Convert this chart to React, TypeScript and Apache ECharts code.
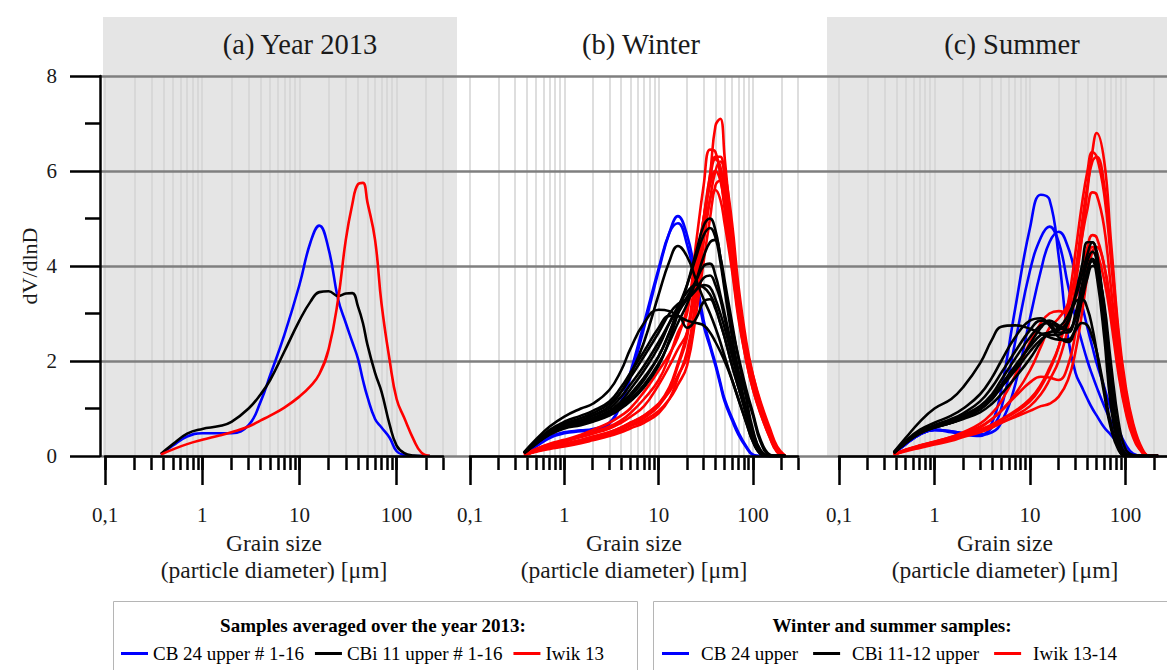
import React, { useEffect, useRef } from "react";
import * as echarts from "echarts";

// ---------- data ----------
const DIAMETERS = [0.375, 0.5, 0.7, 1, 1.5, 2, 3, 4, 5, 7, 10, 13, 16, 20, 25, 30, 35, 40, 45, 50, 60, 70, 85, 100, 120, 150, 180, 220];

const X_MIN = 0.1;
const X_MAX = 300;
const MAJOR_TICKS = [0.1, 1, 10, 100];
const MAJOR_LABELS = ["0,1", "1", "10", "100"];
const ALL_TICKS = [0.1, 0.2, 0.3, 0.4, 0.5, 0.6, 0.7, 0.8, 0.9, 1, 2, 3, 4, 5, 6, 7, 8, 9, 10, 20, 30, 40, 50, 60, 70, 80, 90, 100, 200, 300];
const Y_MIN = 0;
const Y_MAX = 8;
const Y_STEP = 2;

const PANEL_TITLES = ["(a) Year 2013", "(b) Winter", "(c) Summer"];
const X_NAME = "Grain size\n(particle diameter) [μm]";
const Y_NAME = "dV/dlnD";

const LEGEND_A_TITLE = "Samples averaged over the year 2013:";
const LEGEND_BC_TITLE = "Winter and summer samples:";
const NAMES_A = ["CB 24 upper # 1-16", "CBi 11 upper # 1-16", "Iwik 13"];
const NAMES_BC = ["CB 24 upper", "CBi 11-12 upper", "Iwik 13-14"];

// (a) Year 2013
const YEAR_CB24 = [0.03, 0.22, 0.41, 0.48, 0.48, 0.48, 0.65, 1.15, 1.7, 2.55, 3.6, 4.5, 4.85, 4.35, 3.3, 2.8, 2.4, 2.05, 1.6, 1.25, 0.78, 0.6, 0.38, 0.1, 0.02, 0, 0, 0];
const YEAR_CBI11 = [0.04, 0.25, 0.47, 0.57, 0.63, 0.72, 1.0, 1.3, 1.6, 2.2, 2.85, 3.25, 3.45, 3.47, 3.37, 3.42, 3.43, 3.15, 2.8, 2.35, 1.75, 1.35, 0.65, 0.22, 0.06, 0.01, 0, 0];
const YEAR_IWIK13 = [0.03, 0.14, 0.25, 0.34, 0.43, 0.5, 0.62, 0.75, 0.85, 1.02, 1.25, 1.47, 1.72, 2.25, 3.3, 4.55, 5.3, 5.72, 5.75, 5.35, 4.55, 3.2, 2.0, 1.2, 0.8, 0.34, 0.07, 0];

// (b) Winter
const WINTER_CB24 = [
  [0.05, 0.2, 0.38, 0.48, 0.52, 0.55, 0.68, 1.1, 1.65, 2.7, 3.9, 4.7, 5.05, 4.65, 3.75, 2.85, 2.35, 1.95, 1.55, 1.2, 0.8, 0.5, 0.2, 0.03, 0, 0, 0, 0],
  [0.05, 0.21, 0.4, 0.5, 0.54, 0.57, 0.7, 1.15, 1.75, 2.8, 3.95, 4.7, 4.9, 4.45, 3.6, 2.75, 2.3, 1.9, 1.5, 1.15, 0.75, 0.45, 0.18, 0.02, 0, 0, 0, 0],
];
const WINTER_IWIK = [
  [0.02, 0.1, 0.18, 0.25, 0.33, 0.4, 0.5, 0.6, 0.7, 0.85, 1.1, 1.45, 1.95, 2.6, 3.9, 5.0, 5.9, 6.95, 7.1, 6.3, 4.6, 3.3, 2.3, 1.7, 1.15, 0.6, 0.2, 0],
  [0.03, 0.14, 0.24, 0.32, 0.42, 0.5, 0.62, 0.75, 0.9, 1.2, 1.6, 2.1, 2.6, 3.0, 4.5, 5.7, 6.45, 6.4, 5.9, 5.2, 4.0, 3.0, 2.1, 1.5, 1.0, 0.5, 0.15, 0],
  [0.02, 0.1, 0.17, 0.22, 0.3, 0.36, 0.45, 0.55, 0.65, 0.8, 1.05, 1.4, 1.9, 2.5, 3.8, 5.0, 5.9, 6.3, 6.3, 5.8, 4.5, 3.3, 2.2, 1.6, 1.05, 0.5, 0.12, 0],
  [0.02, 0.09, 0.15, 0.2, 0.27, 0.33, 0.42, 0.5, 0.58, 0.7, 0.9, 1.2, 1.65, 2.2, 3.3, 4.5, 5.4, 6.0, 6.2, 6.0, 4.9, 3.6, 2.4, 1.7, 1.1, 0.55, 0.15, 0],
  [0.03, 0.15, 0.26, 0.34, 0.45, 0.55, 0.7, 0.85, 1.0, 1.35, 1.8, 2.15, 2.5, 3.1, 4.1, 5.0, 5.7, 6.0, 5.8, 5.3, 4.2, 3.1, 2.1, 1.5, 0.95, 0.45, 0.1, 0],
  [0.02, 0.1, 0.17, 0.23, 0.3, 0.37, 0.46, 0.55, 0.63, 0.75, 0.95, 1.2, 1.5, 1.9, 3.0, 4.1, 5.0, 5.7, 5.8, 5.5, 4.5, 3.4, 2.3, 1.6, 1.0, 0.5, 0.1, 0],
  [0.03, 0.13, 0.22, 0.3, 0.4, 0.47, 0.58, 0.7, 0.82, 1.05, 1.5, 1.9, 2.25, 2.6, 3.6, 4.6, 5.4, 5.6, 5.4, 4.9, 3.9, 2.9, 2.0, 1.4, 0.9, 0.4, 0.08, 0],
  [0.02, 0.11, 0.19, 0.26, 0.34, 0.41, 0.5, 0.6, 0.7, 0.85, 1.1, 1.35, 1.7, 2.1, 3.4, 4.8, 5.8, 6.25, 6.1, 5.5, 4.2, 3.0, 2.0, 1.4, 0.9, 0.4, 0.1, 0],
];
const WINTER_CBI = [
  [0.06, 0.25, 0.45, 0.58, 0.65, 0.72, 0.85, 1.0, 1.15, 1.45, 1.9, 2.45, 3.0, 3.6, 4.3, 4.85, 5.0, 4.75, 4.2, 3.6, 2.7, 2.1, 1.4, 0.9, 0.35, 0.03, 0, 0],
  [0.06, 0.27, 0.48, 0.62, 0.7, 0.78, 0.92, 1.1, 1.3, 1.65, 2.1, 2.6, 3.1, 3.6, 4.2, 4.65, 4.8, 4.6, 4.1, 3.5, 2.5, 1.8, 0.95, 0.35, 0.06, 0, 0, 0],
  [0.06, 0.28, 0.5, 0.65, 0.75, 0.85, 1.05, 1.35, 1.7, 2.4, 3.4, 4.1, 4.42, 4.2, 3.7, 3.3, 3.0, 2.7, 2.4, 2.1, 1.6, 1.2, 0.7, 0.3, 0.05, 0, 0, 0],
  [0.06, 0.28, 0.5, 0.65, 0.75, 0.85, 1.0, 1.25, 1.5, 1.9, 2.4, 2.8, 3.1, 3.35, 3.7, 4.0, 4.05, 3.8, 3.4, 3.0, 2.3, 1.75, 1.3, 0.85, 0.3, 0.02, 0, 0],
  [0.07, 0.3, 0.52, 0.68, 0.8, 0.9, 1.1, 1.35, 1.65, 2.1, 2.6, 3.0, 3.2, 3.3, 3.5, 3.75, 3.8, 3.6, 3.3, 2.9, 2.2, 1.6, 0.9, 0.35, 0.05, 0, 0, 0],
  [0.06, 0.26, 0.46, 0.6, 0.68, 0.76, 0.9, 1.05, 1.25, 1.6, 2.1, 2.6, 3.0, 3.3, 3.5, 3.6, 3.55, 3.3, 3.0, 2.7, 2.1, 1.6, 1.0, 0.5, 0.12, 0, 0, 0],
  [0.07, 0.3, 0.55, 0.72, 0.85, 0.95, 1.15, 1.45, 1.75, 2.2, 2.7, 2.95, 2.95, 2.7, 2.9, 3.25, 3.3, 3.1, 2.8, 2.5, 1.9, 1.45, 0.9, 0.4, 0.08, 0, 0, 0],
  [0.08, 0.35, 0.62, 0.83, 1.0, 1.1, 1.39, 1.8, 2.25, 2.8, 3.08, 3.05, 2.95, 2.85, 2.8, 2.75, 2.6, 2.4, 2.2, 2.0, 1.6, 1.2, 0.7, 0.3, 0.05, 0, 0, 0],
  [0.06, 0.27, 0.48, 0.62, 0.72, 0.8, 0.95, 1.15, 1.4, 1.8, 2.3, 2.8, 3.15, 3.45, 3.6, 3.55, 3.4, 3.15, 2.8, 2.5, 1.9, 1.45, 0.85, 0.35, 0.06, 0, 0, 0],
  [0.06, 0.26, 0.46, 0.6, 0.68, 0.75, 0.88, 1.02, 1.2, 1.5, 1.95, 2.4, 2.8, 3.2, 3.7, 4.2, 4.5, 4.55, 4.2, 3.7, 2.8, 2.05, 1.2, 0.55, 0.12, 0, 0, 0],
];

// (c) Summer
const SUMMER_CB24 = [
  [0.05, 0.25, 0.45, 0.55, 0.5, 0.45, 0.42, 0.7, 1.4, 3.1, 4.8, 5.5, 5.4, 4.2, 2.5, 1.75, 1.45, 1.2, 1.0, 0.85, 0.6, 0.45, 0.25, 0.08, 0, 0, 0, 0],
  [0.05, 0.25, 0.45, 0.55, 0.52, 0.48, 0.45, 0.6, 1.0, 2.4, 3.9, 4.6, 4.83, 4.5, 3.6, 2.9, 2.4, 2.0, 1.7, 1.45, 1.05, 0.75, 0.4, 0.15, 0.02, 0, 0, 0],
  [0.05, 0.25, 0.45, 0.55, 0.52, 0.48, 0.45, 0.5, 0.7, 1.5, 2.9, 3.9, 4.5, 4.72, 4.4, 3.8, 3.2, 2.7, 2.3, 1.95, 1.45, 1.0, 0.55, 0.25, 0.05, 0, 0, 0],
];
const SUMMER_IWIK = [
  [0.03, 0.12, 0.2, 0.28, 0.36, 0.42, 0.52, 0.6, 0.7, 0.85, 1.05, 1.3, 1.6, 2.0, 2.7, 3.6, 4.6, 5.6, 6.4, 6.8, 6.2, 4.6, 2.6, 1.5, 0.7, 0.15, 0, 0],
  [0.03, 0.12, 0.2, 0.28, 0.36, 0.43, 0.54, 0.64, 0.75, 0.92, 1.15, 1.45, 1.8, 2.3, 3.2, 4.3, 5.3, 6.0, 6.4, 6.3, 5.5, 4.2, 2.4, 1.3, 0.6, 0.12, 0, 0],
  [0.03, 0.13, 0.22, 0.3, 0.4, 0.48, 0.62, 0.78, 0.95, 1.3, 1.8, 2.3, 2.7, 2.9, 3.2, 3.8, 4.6, 5.2, 5.55, 5.5, 4.8, 3.6, 2.1, 1.2, 0.5, 0.1, 0, 0],
  [0.03, 0.13, 0.22, 0.3, 0.4, 0.5, 0.68, 0.9, 1.15, 1.7, 2.4, 2.8, 3.0, 3.05, 3.0, 3.3, 3.9, 4.4, 4.65, 4.6, 4.0, 3.1, 1.8, 1.0, 0.45, 0.08, 0, 0],
  [0.03, 0.12, 0.21, 0.29, 0.38, 0.45, 0.56, 0.66, 0.77, 0.95, 1.2, 1.5, 1.85, 2.3, 3.0, 3.9, 4.9, 5.7, 6.2, 6.3, 5.7, 4.4, 2.5, 1.4, 0.65, 0.12, 0, 0],
  [0.03, 0.12, 0.2, 0.28, 0.38, 0.46, 0.6, 0.78, 0.95, 1.25, 1.55, 1.67, 1.65, 1.6, 1.9, 2.6, 3.5, 4.1, 4.4, 4.3, 3.7, 2.9, 1.7, 0.95, 0.4, 0.07, 0, 0],
  [0.03, 0.1, 0.17, 0.24, 0.32, 0.4, 0.5, 0.6, 0.7, 0.82, 0.95, 1.05, 1.1, 1.25, 1.6, 2.2, 3.0, 3.8, 4.3, 4.4, 4.0, 3.2, 1.9, 1.1, 0.45, 0.08, 0, 0],
];
const SUMMER_CBI = [
  [0.07, 0.3, 0.5, 0.62, 0.72, 0.82, 1.0, 1.25, 1.5, 1.9, 2.3, 2.55, 2.6, 2.7, 2.95, 3.35, 3.8, 4.25, 4.5, 4.3, 3.0, 1.4, 0.3, 0.03, 0, 0, 0, 0],
  [0.07, 0.3, 0.52, 0.65, 0.78, 0.9, 1.15, 1.45, 1.75, 2.2, 2.65, 2.85, 2.8, 2.6, 2.6, 3.0, 3.6, 4.1, 4.3, 4.1, 2.8, 1.3, 0.25, 0.02, 0, 0, 0, 0],
  [0.06, 0.28, 0.48, 0.6, 0.7, 0.8, 0.98, 1.2, 1.45, 1.85, 2.35, 2.7, 2.85, 2.75, 2.65, 2.9, 3.4, 3.9, 4.15, 4.0, 2.9, 1.5, 0.35, 0.03, 0, 0, 0, 0],
  [0.07, 0.32, 0.55, 0.7, 0.85, 1.0, 1.3, 1.65, 2.0, 2.5, 2.85, 2.9, 2.75, 2.5, 2.4, 2.7, 3.3, 3.9, 4.1, 3.8, 2.5, 1.1, 0.2, 0.01, 0, 0, 0, 0],
  [0.06, 0.28, 0.48, 0.6, 0.7, 0.8, 0.98, 1.2, 1.45, 1.8, 2.2, 2.45, 2.55, 2.55, 2.8, 3.25, 3.3, 3.1, 2.7, 2.2, 1.3, 0.6, 0.12, 0, 0, 0, 0, 0],
  [0.08, 0.38, 0.72, 1.0, 1.2, 1.45, 1.95, 2.45, 2.72, 2.75, 2.68, 2.58, 2.5, 2.45, 2.45, 2.65, 2.8, 2.75, 2.5, 2.2, 1.4, 0.7, 0.15, 0, 0, 0, 0, 0],
  [0.06, 0.27, 0.47, 0.6, 0.7, 0.78, 0.92, 1.1, 1.3, 1.65, 2.05, 2.4, 2.6, 2.65, 2.85, 3.4, 4.0, 4.5, 4.5, 4.2, 3.1, 1.7, 0.45, 0.05, 0, 0, 0, 0],
  [0.06, 0.28, 0.5, 0.63, 0.75, 0.86, 1.05, 1.3, 1.6, 2.05, 2.5, 2.75, 2.8, 2.7, 2.65, 2.9, 3.3, 3.75, 4.0, 3.95, 3.2, 2.0, 0.7, 0.15, 0.02, 0, 0, 0],
];

// ---------- styling / layout ----------
const BLUE = "#0000ff";
const BLACK = "#000000";
const RED = "#ff0000";
const FONT = "Liberation Serif";
const TEXT = "#1a1a1a";

const PANELS = [
  { left: 105, width: 338, title: 300 },
  { left: 470, width: 328, title: 641 },
  { left: 839, width: 332, title: 1012 },
];
const TOP = 76;
const HEIGHT = 380;

const log = (v: number) => Math.log10(v);
const LX = DIAMETERS.map(log);
const MAJOR_LOG = MAJOR_TICKS.map(log);
const ALL_LOG = ALL_TICKS.map(log);

function line(name: string, color: string, values: number[], p: number) {
  return {
    type: "line",
    name,
    xAxisIndex: p * 2 + 1,
    yAxisIndex: p,
    data: LX.map((x, i) => [x, values[i]]),
    smooth: 0.45,
    symbol: "none",
    showSymbol: false,
    silent: true,
    clip: true,
    z: 2,
    lineStyle: { color, width: 2.6 },
    itemStyle: { color },
    emphasis: { disabled: true },
  };
}

function buildOption() {
  const tickStyle = { color: BLACK, width: 2.5 };
  const grids: any[] = PANELS.map((p) => ({
    left: p.left,
    top: TOP,
    width: p.width,
    height: HEIGHT,
    outerBoundsMode: "none",
  }));
  grids.push({ left: 100, top: TOP, right: 0, height: HEIGHT, outerBoundsMode: "none" });

  const xAxes: any[] = [];
  PANELS.forEach((_, p) => {
    xAxes.push({
      type: "value",
      gridIndex: p,
      position: "bottom",
      min: log(X_MIN),
      max: log(X_MAX),
      axisLine: { show: false },
      axisTick: { show: true, customValues: ALL_LOG, length: 14, lineStyle: tickStyle },
      axisLabel: { show: false },
      splitLine: { show: true, lineStyle: { color: "#d3d3d3", width: 1.5 } },
      z: 0,
    });
    xAxes.push({
      type: "value",
      gridIndex: p,
      position: "bottom",
      min: log(X_MIN),
      max: log(X_MAX),
      axisLine: { show: true, onZero: false, lineStyle: tickStyle },
      axisTick: { show: true, customValues: MAJOR_LOG, length: 29, lineStyle: tickStyle },
      axisLabel: {
        show: true,
        customValues: MAJOR_LOG,
        formatter: (v: number) => {
          const i = MAJOR_LOG.findIndex((t) => Math.abs(t - v) < 1e-6);
          return i >= 0 ? MAJOR_LABELS[i] : "";
        },
        margin: 48,
        fontSize: 21,
        fontFamily: FONT,
        color: TEXT,
      },
      splitLine: { show: false },
      name: X_NAME,
      nameLocation: "middle",
      nameGap: 72,
      nameTextStyle: { fontSize: 23.5, lineHeight: 27, fontFamily: FONT, color: TEXT },
      z: 3,
    });
  });
  xAxes.push({ type: "value", gridIndex: 3, show: false, min: 0, max: 1 });

  const yAxes: any[] = [
    {
      type: "value",
      gridIndex: 0,
      min: Y_MIN,
      max: Y_MAX,
      interval: Y_STEP,
      offset: 5,
      axisLine: { show: true, onZero: false, lineStyle: tickStyle },
      axisTick: { show: true, length: 30, lineStyle: tickStyle },
      minorTick: { show: true, splitNumber: 2, length: 15, lineStyle: tickStyle },
      axisLabel: { margin: 43, fontSize: 21, fontFamily: FONT, color: TEXT },
      splitLine: { show: false },
      name: Y_NAME,
      nameLocation: "middle",
      nameRotate: 90,
      nameGap: 60,
      nameTextStyle: { fontSize: 22, fontFamily: FONT, color: TEXT, padding: [0, 0, 0, 0] },
      z: 3,
    },
    { type: "value", gridIndex: 1, min: Y_MIN, max: Y_MAX, show: false },
    { type: "value", gridIndex: 2, min: Y_MIN, max: Y_MAX, show: false },
    {
      type: "value",
      gridIndex: 3,
      min: Y_MIN,
      max: Y_MAX,
      interval: Y_STEP,
      axisLine: { show: false },
      axisTick: { show: false },
      axisLabel: { show: false },
      splitLine: { show: true, lineStyle: { color: "#7f7f7f", width: 2.5 } },
      z: 1,
    },
  ];

  const series: any[] = [
    line(NAMES_A[0], BLUE, YEAR_CB24, 0),
    line(NAMES_A[1], BLACK, YEAR_CBI11, 0),
    line(NAMES_A[2], RED, YEAR_IWIK13, 0),
    ...WINTER_CB24.map((v) => line(NAMES_BC[0], BLUE, v, 1)),
    ...WINTER_IWIK.map((v) => line(NAMES_BC[2], RED, v, 1)),
    ...WINTER_CBI.map((v) => line(NAMES_BC[1], BLACK, v, 1)),
    ...SUMMER_CB24.map((v) => line(NAMES_BC[0], BLUE, v, 2)),
    ...SUMMER_IWIK.map((v) => line(NAMES_BC[2], RED, v, 2)),
    ...SUMMER_CBI.map((v) => line(NAMES_BC[1], BLACK, v, 2)),
  ];

  const legendBase = {
    orient: "horizontal",
    icon: "rect",
    itemWidth: 27,
    itemHeight: 3,
    padding: 0,
    selectedMode: false,
    itemStyle: { borderWidth: 0 },
  };

  const centered = { align: "center", verticalAlign: "middle", textAlign: "center", textVerticalAlign: "middle" };

  const graphicEls: any[] = [
    { type: "rect", silent: true, z: -10, shape: { x: 103, y: 17, width: 354, height: 439 }, style: { fill: "#e5e5e5" } },
    { type: "rect", silent: true, z: -10, shape: { x: 827, y: 17, width: 340, height: 439 }, style: { fill: "#e5e5e5" } },
    ...PANELS.map((p, i) => ({
      type: "text",
      silent: true,
      x: p.title,
      y: 44,
      style: { text: PANEL_TITLES[i], fontSize: 28.5, fontFamily: FONT, fill: TEXT, ...centered },
    })),
    { type: "rect", silent: true, shape: { x: 113.5, y: 601.5, width: 524, height: 100 }, style: { fill: "none", stroke: "#b5b5b5", lineWidth: 1 } },
    { type: "rect", silent: true, shape: { x: 653.5, y: 601.5, width: 540, height: 100 }, style: { fill: "none", stroke: "#b5b5b5", lineWidth: 1 } },
    {
      type: "text",
      silent: true,
      x: 373,
      y: 625,
      style: { text: LEGEND_A_TITLE, fontSize: 19, fontWeight: "bold", fontFamily: FONT, fill: BLACK, ...centered },
    },
    {
      type: "text",
      silent: true,
      x: 892,
      y: 625,
      style: { text: LEGEND_BC_TITLE, fontSize: 19, fontWeight: "bold", fontFamily: FONT, fill: BLACK, ...centered },
    },
  ];

  return {
    animation: false,
    backgroundColor: "#ffffff",
    grid: grids,
    xAxis: xAxes,
    yAxis: yAxes,
    legend: [
      {
        ...legendBase,
        data: NAMES_A,
        left: 121,
        top: 644,
        itemGap: 11,
        textStyle: { fontFamily: FONT, fontSize: 19, color: BLACK },
      },
      {
        ...legendBase,
        data: NAMES_BC,
        left: 662,
        top: 644,
        itemGap: 15,
        textStyle: { fontFamily: FONT, fontSize: 19, color: BLACK, padding: [0, 0, 0, 7] },
      },
    ],
    graphic: { elements: graphicEls },
    series,
  };
}

export default function App() {
  const ref = useRef<HTMLDivElement>(null);
  useEffect(() => {
    document.body.style.margin = "0";
    const chart = echarts.init(ref.current as HTMLDivElement, null, { renderer: "svg" });
    chart.setOption(buildOption() as any);
    return () => {
      chart.dispose();
    };
  }, []);
  return <div ref={ref} style={{ width: 1167, height: 670 }} />;
}
